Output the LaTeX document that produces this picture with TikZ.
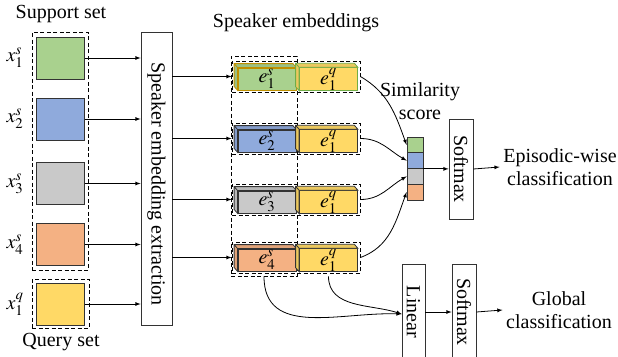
\documentclass[tikz,border=0pt]{standalone}
\usepackage{mathptmx}
\usepackage[no-math]{fontspec}
\setmainfont{Liberation Serif}
\usetikzlibrary{arrows}

\definecolor{cgreen}{HTML}{A9D18E}
\definecolor{cblue}{HTML}{8FAADC}
\definecolor{cgray}{HTML}{C9C9C9}
\definecolor{corange}{HTML}{F4B183}
\definecolor{cyellow}{HTML}{FFD966}
\definecolor{cgold}{HTML}{BF9000}
\definecolor{cleaf}{HTML}{70AD47}

% top and left faces of an embedding block
\newcommand{\cubeside}[2]{%
  \draw[#2] (#1.south west) -- ++(-3.5,-4) -- ([shift={(-3.5,-4)}]#1.north west)
    -- ([shift={(-3.5,-4)}]#1.north east) -- (#1.north east) -- (#1.north west) -- cycle
    (#1.north west) -- ++(-3.5,-4);}

\begin{document}
\begin{tikzpicture}[x=1pt, y=-1pt, >=latex, line width=0.8pt,
	every node/.style={font=\fontsize{20}{23}\selectfont},
	sq/.style={draw=black!80, line width=1pt, minimum width=48pt, minimum height=42pt, inner sep=0pt},
	grp/.style={draw, dash pattern=on 4pt off 2.5pt, inner sep=0pt},
	box/.style={draw=black!80, inner sep=0pt},
	blk/.style={draw=black!80, minimum width=58pt, minimum height=22pt, inner sep=0pt},
	cell/.style={draw=black!80, minimum width=16pt, minimum height=15.75pt, inner sep=0pt}]
		\useasboundingbox (0,0) rectangle (618,356);

		% inputs
		\node (supp) at (61,14) {Support set};
		\node (qry) at (61,342) {Query set};
		\node[grp, minimum width=56pt, minimum height=238pt] (sgrp) at (60,151) {};
		\node[grp, minimum width=57pt, minimum height=49pt] (qgrp) at (60.5,303.5) {};

		\node[sq, fill=cgreen] (x1) at (60,58) {};
		\node[sq, fill=cblue] (x2) at (60,119) {};
		\node[sq, fill=cgray] (x3) at (60,183.5) {};
		\node[sq, fill=corange] (x4) at (60,244.5) {};
		\node[sq, fill=cyellow] (xq) at (60,304) {};

		\node (lx1) at (15,58) {$x_1^s$};
		\node (lx2) at (15,119) {$x_2^s$};
		\node (lx3) at (15,183.5) {$x_3^s$};
		\node (lx4) at (15,244.5) {$x_4^s$};
		\node (lxq) at (15,304) {$x_1^q$};

		\node[box, minimum width=31pt, minimum height=293pt] (ext) at (156.5,178.5) {\rotatebox{-90}{\hspace*{11pt}Speaker embedding extraction}};

		\draw[->] (x1.east) -- (ext.west |- x1.east);
		\draw[->] (x2.east) -- (ext.west |- x2.east);
		\draw[->] (x3.east) -- (ext.west |- x3.east);
		\draw[->] (x4.east) -- (ext.west |- x4.east);
		\draw[->] (xq.east) -- (ext.west |- xq.east);

		% embeddings
		\node (spk) at (296,23) {Speaker embeddings};
		\node[grp, minimum width=66pt, minimum height=220pt] (col) at (264,166) {};
		\node[grp, minimum width=128pt, minimum height=31pt] (r1) at (296,76.5) {};
		\node[grp, minimum width=128pt, minimum height=31pt] (r2) at (296,138.5) {};
		\node[grp, minimum width=128pt, minimum height=31pt] (r3) at (296,199.5) {};
		\node[grp, minimum width=128pt, minimum height=31pt] (r4) at (296,257.5) {};

		\node[blk, fill=cgreen, draw=cgold] (e1s) at (267,79) {$e_1^s$};
		\node[blk, fill=cyellow, draw=cleaf] (e1q) at (328.5,79) {$e_1^q$};
		\node[blk, fill=cblue] (e2s) at (267,141) {$e_2^s$};
		\node[blk, fill=cyellow] (e2q) at (328.5,141) {$e_1^q$};
		\node[blk, fill=cgray] (e3s) at (267,202) {$e_3^s$};
		\node[blk, fill=cyellow] (e3q) at (328.5,202) {$e_1^q$};
		\node[blk, fill=corange] (e4s) at (267,260) {$e_4^s$};
		\node[blk, fill=cyellow] (e4q) at (328.5,260) {$e_1^q$};

		\cubeside{e1s}{fill=cgreen!92!black, draw=cgold}
		\cubeside{e1q}{fill=cyellow!92!black, draw=cleaf}
		\cubeside{e2s}{fill=cblue!92!black, draw=black!80}
		\cubeside{e2q}{fill=cyellow!92!black, draw=black!80}
		\cubeside{e3s}{fill=cgray!92!black, draw=black!80}
		\cubeside{e3q}{fill=cyellow!92!black, draw=black!80}
		\cubeside{e4s}{fill=corange!92!black, draw=black!80}
		\cubeside{e4q}{fill=cyellow!92!black, draw=black!80}

		\draw[->] (ext.east |- r1.west) -- (r1.west);
		\draw[->] (ext.east |- r2.west) -- (r2.west);
		\draw[->] (ext.east |- r3.west) -- (r3.west);
		\draw[->] (ext.east |- r4.west) -- (r4.west);

		% episodic branch
		\node[align=center] (sim) at (420,101) {Similarity\\score};
		\node[cell, fill=cgreen] (s1) at (415,144.9) {};
		\node[cell, fill=cblue] (s2) at (415,160.6) {};
		\node[cell, fill=cgray] (s3) at (415,176.4) {};
		\node[cell, fill=corange] (s4) at (415,192.1) {};

		\draw[->] (r1.east) to[out=-30,in=110] (s1.west);
		\draw[->] (r2.east) to[out=0,in=150] (s2.west);
		\draw[->] (r3.east) to[out=0,in=210] (s3.west);
		\draw[->] (r4.east) to[out=20,in=250] (s4.west);

		\node[box, minimum width=24pt, minimum height=100pt] (soft1) at (461,169) {\rotatebox{-90}{Softmax}};
		\node[align=center] (epi) at (560,167) {Episodic-wise\\classification};
		\draw[->] (s2.south east) -- (soft1.west |- s2.south east);
		\draw[->] (soft1.east) -- (epi.west);

		% global branch
		\node[box, minimum width=23pt, minimum height=96pt] (lin) at (413.5,312) {\rotatebox{-90}{Linear}};
		\node[box, minimum width=24pt, minimum height=96pt] (soft2) at (464,312) {\rotatebox{-90}{Softmax}};
		\node[align=center] (glob) at (559,310) {Global\\classification};

		\draw[->] (col.south) to[out=-90,in=178,looseness=1.1] ([yshift=-2pt]lin.west);
		\draw[->] (e4q |- col.south) to[out=-90,in=162] ([yshift=-2pt]lin.west);
		\draw[->] (lin.east) -- (soft2.west);
		\draw[->] (soft2.east) -- (glob.west);
\end{tikzpicture}
\end{document}
